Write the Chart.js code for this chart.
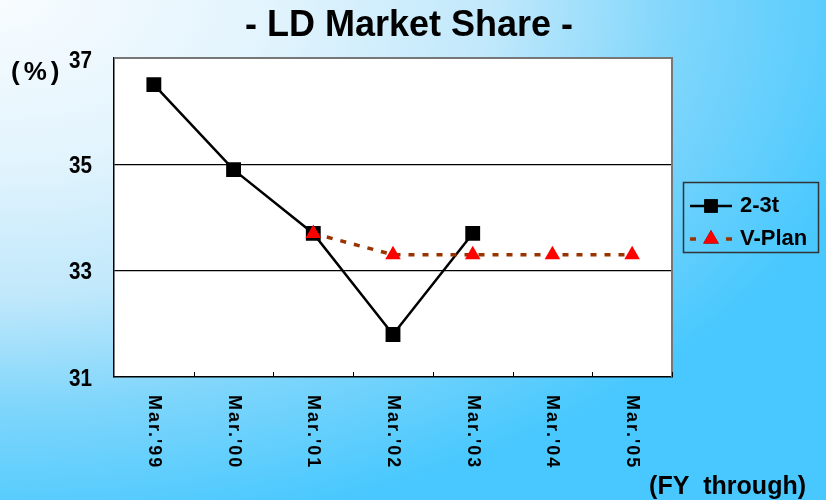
<!DOCTYPE html>
<html>
<head>
<meta charset="utf-8">
<script src="https://cdn.jsdelivr.net/npm/chart.js@4.4.1/dist/chart.umd.min.js"></script>
<style>
  html, body { margin: 0; padding: 0; }
  #wrap { position: relative; width: 826px; height: 500px; }
</style>
</head>
<body>
<div id="wrap"><canvas id="shareChart" width="826" height="500"></canvas></div>
<script>
// data
let categories = ["Mar.'99", "Mar.'00", "Mar.'01", "Mar.'02", "Mar.'03", "Mar.'04", "Mar.'05"];
let actual = [36.5, 34.9, 33.7, 31.8, 33.7, null, null];
let plan = [null, null, 33.7, 33.3, 33.3, 33.3, 33.3];
let yTicks = [31, 33, 35, 37];

const sans = "'Liberation Sans', Arial, sans-serif";

// text squeezed a little sideways, like the condensed font of the original
function narrowText(ctx, text, x, y, squeeze) {
    ctx.save();
    ctx.translate(x, y);
    ctx.scale(squeeze, 1);
    ctx.fillText(text, 0, 0);
    ctx.restore();
}

const backdrop = {
    id: "backdrop",
    beforeDraw(chart) {
        let ctx = chart.ctx;
        let a = chart.chartArea;
        ctx.save();
        ctx.scale(1, 0.6);
        let g = ctx.createRadialGradient(0, 0, 0, 0, 0, 900);
        g.addColorStop(0, "#f8fcff");
        g.addColorStop(0.3, "#e2f4fd");
        g.addColorStop(0.55, "#c0e8fb");
        g.addColorStop(0.75, "#80d6fb");
        g.addColorStop(1, "#48c8fe");
        ctx.fillStyle = g;
        ctx.fillRect(0, 0, chart.width, chart.height / 0.6);
        ctx.restore();
        ctx.fillStyle = "#fff";
        ctx.fillRect(a.left, a.top, a.right - a.left, a.bottom - a.top);
    },
    afterDraw(chart) {
        let ctx = chart.ctx;
        let a = chart.chartArea;
        let x = chart.scales.x;
        let y = chart.scales.y;
        ctx.save();
        // top / right frame
        ctx.strokeStyle = "#777";
        ctx.lineWidth = 2;
        ctx.beginPath();
        ctx.moveTo(a.left, a.top);
        ctx.lineTo(a.right, a.top);
        ctx.lineTo(a.right, a.bottom);
        ctx.stroke();
        // small inner ticks between categories
        ctx.strokeStyle = "#000";
        ctx.lineWidth = 1;
        let step = (a.right - a.left) / categories.length;
        for (let i = 1; i <= categories.length; i++) {
            let px = Math.round(a.left + i * step) + 0.5;
            ctx.beginPath();
            ctx.moveTo(px, a.bottom);
            ctx.lineTo(px, a.bottom - 5);
            ctx.stroke();
        }
        // y tick labels
        ctx.fillStyle = "#000";
        ctx.font = "bold 24px " + sans;
        ctx.textAlign = "right";
        ctx.textBaseline = "middle";
        yTicks.forEach(v => {
            let py = y.getPixelForValue(v) + 2;
            if (v === yTicks[yTicks.length - 1]) py += 1;
            narrowText(ctx, String(v), 92, py, 0.86);
        });
        // rotated category labels
        ctx.font = "bold 18px " + sans;
        ctx.letterSpacing = "2px";
        ctx.textAlign = "left";
        ctx.textBaseline = "middle";
        categories.forEach((c, i) => {
            ctx.save();
            ctx.translate(x.getPixelForValue(i), a.bottom + 18);
            ctx.rotate(Math.PI / 2);
            ctx.fillText(c, 0, 0);
            ctx.restore();
        });
        ctx.letterSpacing = "0px";
        // title
        ctx.font = "bold 36px " + sans;
        ctx.textAlign = "center";
        ctx.textBaseline = "alphabetic";
        ctx.fillText("- LD Market Share -", 409, 36);
        // unit labels
        ctx.font = "bold 26px " + sans;
        ctx.letterSpacing = "4px";
        ctx.textAlign = "left";
        ctx.fillText("(%)", 11, 80);
        ctx.letterSpacing = "0px";
        ctx.font = "bold 25px " + sans;
        ctx.textAlign = "right";
        ctx.fillText("(FY  through)", 806, 494);
        // legend
        ctx.strokeStyle = "#333";
        ctx.lineWidth = 1.5;
        ctx.strokeRect(683.5, 182.5, 135, 70);
        let dPlan = chart.data.datasets[0];
        let dAct = chart.data.datasets[1];
        ctx.strokeStyle = dAct.borderColor;
        ctx.lineWidth = 2.5;
        ctx.beginPath();
        ctx.moveTo(690, 206);
        ctx.lineTo(732, 206);
        ctx.stroke();
        Chart.helpers.drawPoint(ctx, { pointStyle: "rect", radius: 9.5, borderWidth: 0 }, 711, 206);
        ctx.fillStyle = dAct.pointBackgroundColor;
        ctx.fill();
        ctx.strokeStyle = dPlan.borderColor;
        ctx.lineWidth = 3.5;
        ctx.beginPath();
        ctx.moveTo(690, 239);
        ctx.lineTo(696, 239);
        ctx.moveTo(726, 239);
        ctx.lineTo(732, 239);
        ctx.stroke();
        Chart.helpers.drawPoint(ctx, { pointStyle: "triangle", radius: 9, borderWidth: 0 }, 711, 239);
        ctx.fillStyle = dPlan.pointBackgroundColor;
        ctx.fill();
        ctx.fillStyle = "#000";
        ctx.font = "bold 22px " + sans;
        ctx.textAlign = "left";
        ctx.textBaseline = "middle";
        narrowText(ctx, "2-3t", 740, 206, 1.0);
        narrowText(ctx, "V-Plan", 740, 239, 1.0);
        ctx.restore();
    }
};

new Chart(document.getElementById("shareChart"), {
    type: "line",
    data: {
        labels: categories,
        datasets: [{
            label: "V-Plan",
            data: plan,
            borderColor: "#993300",
            borderWidth: 3.5,
            borderDash: [6, 8],
            pointStyle: "triangle",
            pointRadius: 9,
            pointBorderWidth: 0,
            pointBackgroundColor: "#ff0000",
            tension: 0,
            spanGaps: false
        }, {
            label: "2-3t",
            data: actual,
            borderColor: "#000",
            borderWidth: 2.5,
            pointStyle: "rect",
            pointRadius: 10.5,
            pointBorderWidth: 0,
            pointBackgroundColor: "#000",
            tension: 0
        }]
    },
    options: {
        responsive: false,
        animation: false,
        layout: { padding: { top: 58, right: 154, left: 0, bottom: 0 } },
        plugins: {
            legend: { display: false },
            title: { display: false },
            tooltip: { enabled: false }
        },
        scales: {
            x: {
                offset: true,
                grid: { display: false },
                border: { color: "#000", width: 1.5 },
                ticks: { display: false },
                afterFit: (s) => { s.height = 123; }
            },
            y: {
                min: 31,
                max: 37,
                afterBuildTicks: (s) => { s.ticks = yTicks.map(v => ({ value: v })); },
                grid: {
                    drawTicks: false,
                    color: (c) => (c.tick && (c.tick.value === 33 || c.tick.value === 35)) ? "#000" : "rgba(0,0,0,0)",
                    lineWidth: 1.2
                },
                border: { color: "#000", width: 1.5 },
                ticks: { display: false },
                afterFit: (s) => { s.width = 114; }
            }
        }
    },
    plugins: [backdrop]
});
</script>
</body>
</html>
